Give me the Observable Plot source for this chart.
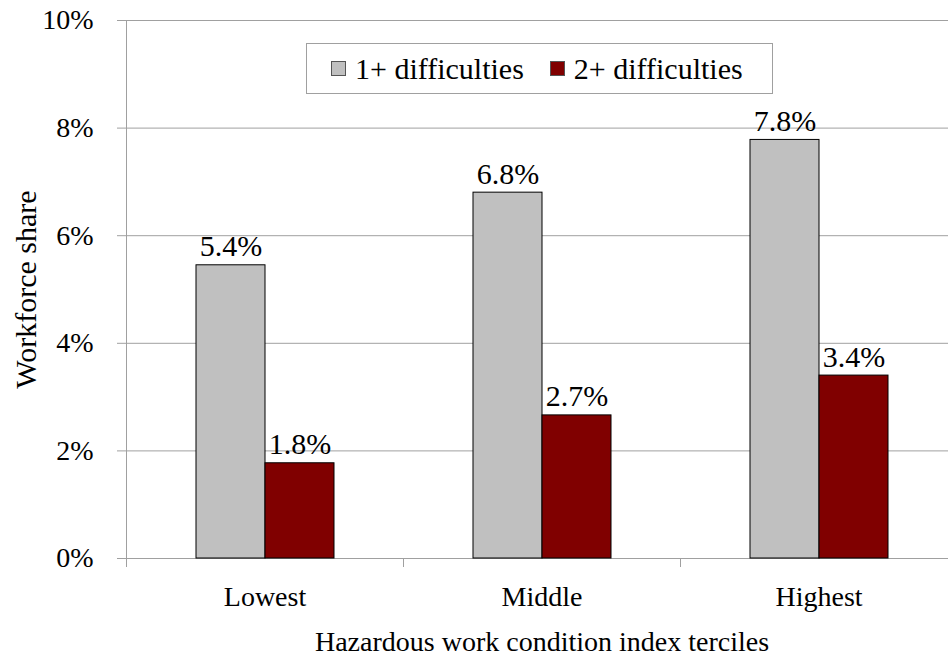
<!DOCTYPE html>
<html>
<head>
<meta charset="utf-8">
<script src="https://cdn.jsdelivr.net/npm/d3@7"></script>
<script src="https://cdn.jsdelivr.net/npm/@observablehq/plot@0.6"></script>
<style>
  html, body { margin: 0; padding: 0; background: white; overflow: hidden; }
  #wrap { position: relative; width: 948px; height: 656px; font-family: "Liberation Serif", "Times New Roman", serif; }
  #legend { position: absolute; left: 306px; top: 43px; width: 467px; height: 51px; box-sizing: border-box;
    border: 1px solid #a0a0a0; background: white; display: flex; align-items: center;
    font-family: "Liberation Serif", "Times New Roman", serif; font-size: 30px; color: black; }
  .item { display: flex; align-items: center; }
  .sw { width: 15px; height: 15px; box-sizing: border-box; border: 1px solid #555; margin-right: 9px; }
</style>
</head>
<body>
<div id="wrap"></div>
<script>
const categories = ["Lowest", "Middle", "Highest"];
const series = ["1+ difficulties", "2+ difficulties"];
const values1 = [5.45, 6.80, 7.78];
const values2 = [1.77, 2.66, 3.40];
const labels1 = ["5.4%", "6.8%", "7.8%"];
const labels2 = ["1.8%", "2.7%", "3.4%"];
const yTicks = [0, 2, 4, 6, 8, 10];
const colors = ["#c0c0c0", "#800000"];

const data = [];
categories.forEach((c, i) => {
  data.push({cat: c, series: series[0], value: values1[i], label: labels1[i]});
  data.push({cat: c, series: series[1], value: values2[i], label: labels2[i]});
});

const gridColor = "#a0a0a0";
const serif = '"Liberation Serif", "Times New Roman", serif';

const chart = Plot.plot({
  width: 948,
  height: 656,
  marginLeft: 125,
  marginRight: -9.5,
  marginTop: 20,
  marginBottom: 98,
  style: {fontFamily: serif, fontSize: "28px", background: "white", color: "black"},
  fx: {domain: categories, padding: 0},
  x: {domain: series, paddingInner: 0, paddingOuter: 1, axis: null},
  y: {domain: [0, 10]},
  color: {domain: series, range: colors},
  marks: [
    Plot.gridY(yTicks, {stroke: gridColor, strokeOpacity: 1}),
    Plot.axisY(yTicks, {tickSize: 9, tickPadding: 24, tickFormat: d => d + "%", stroke: gridColor, fill: "black",
      fontFamily: serif, fontSize: 28, fontVariant: "normal",
      label: "Workforce share", labelArrow: false, labelAnchor: "center", labelOffset: 112}),
    Plot.axisFx({anchor: "bottom", tickSize: 0, tickPadding: 28, fill: "black", fontFamily: serif, fontSize: 28,
      label: "Hazardous work condition index terciles", labelArrow: false, labelAnchor: "center", labelOffset: 92}),
    Plot.barY(data, {fx: "cat", x: "series", y: "value", fill: "series", stroke: "black", strokeWidth: 1}),
    Plot.text(data, {fx: "cat", x: "series", y: "value", text: "label", lineAnchor: "bottom", dy: -9,
      fill: "black", fontFamily: serif, fontSize: 30})
  ]
});

// category boundary ticks and vertical axis line from the scales
const fx = chart.scale("fx");
const y = chart.scale("y");
const y0 = y.apply(0), yTop = y.apply(10);
const bounds = categories.map(c => fx.apply(c));
bounds.push(fx.apply(categories[categories.length - 1]) + fx.step);
const g = d3.select(chart).append("g").attr("stroke", gridColor).attr("stroke-width", 1);
bounds.forEach((bx, i) => {
  g.append("line").attr("x1", bx + 0.5).attr("x2", bx + 0.5)
    .attr("y1", i === 0 ? yTop : y0).attr("y2", y0 + 9);
});
// y-axis title size
d3.select(chart).selectAll("text").filter(function() { return this.textContent === "Workforce share"; })
  .attr("font-size", 30);

const wrap = document.getElementById("wrap");
wrap.appendChild(chart);

const legend = document.createElement("div");
legend.id = "legend";
series.forEach((s, i) => {
  const item = document.createElement("div");
  item.className = "item";
  item.style.marginLeft = i === 0 ? "24px" : "26px";
  const sw = document.createElement("div");
  sw.className = "sw";
  sw.style.background = colors[i];
  const t = document.createElement("span");
  t.textContent = s;
  item.appendChild(sw);
  item.appendChild(t);
  legend.appendChild(item);
});
wrap.appendChild(legend);
</script>
</body>
</html>
